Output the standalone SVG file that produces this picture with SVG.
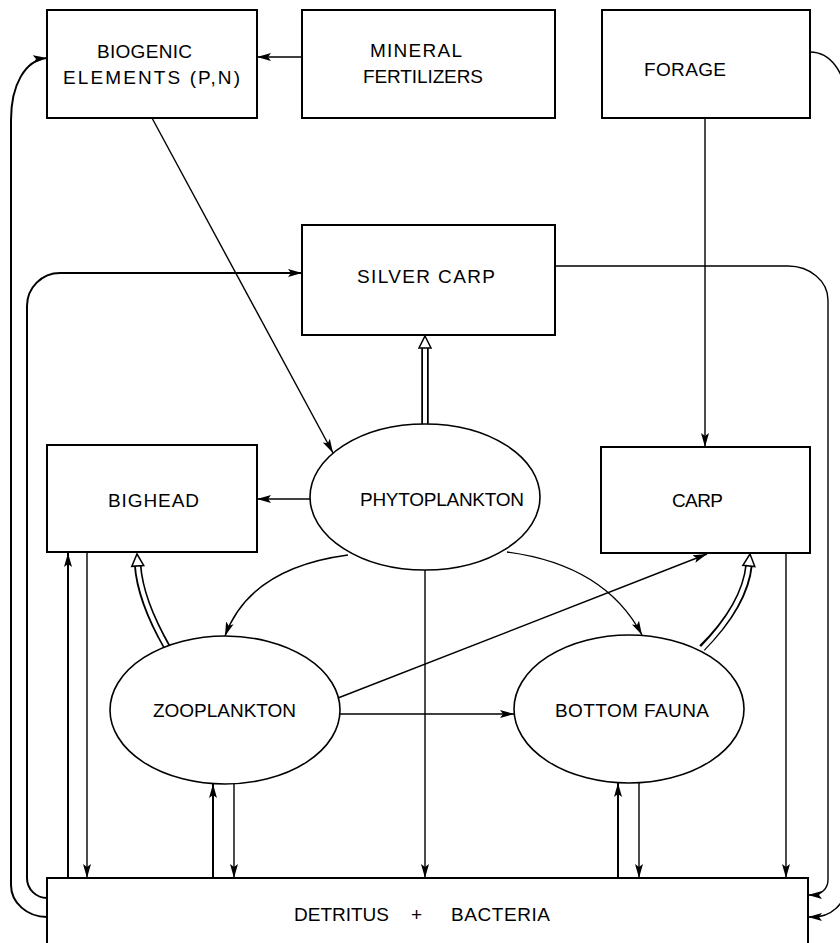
<svg xmlns="http://www.w3.org/2000/svg" width="840" height="943" viewBox="0 0 840 943">
<style>
.box{fill:#fff;stroke:#000;stroke-width:2}
.ell{fill:#fff;stroke:#000;stroke-width:1.6}
.t{font-family:"Liberation Sans",Arial,sans-serif;font-size:19px;fill:#000}
.c{fill:none;stroke:#000;stroke-width:1.4}
.c2{fill:none;stroke:#000;stroke-width:2}
.dbo{fill:none;stroke:#000;stroke-width:7.5}
.dbi{fill:none;stroke:#fff;stroke-width:4}
.oh{fill:#fff;stroke:#000;stroke-width:1.5;stroke-linejoin:miter}
</style>
<defs>
<marker id="ah" markerWidth="16" markerHeight="9" refX="14" refY="4.5" orient="auto" markerUnits="userSpaceOnUse">
<path d="M0,0.5 L14,4.5 L0,8.5 L3,4.5 z" fill="#000"/>
</marker>
<path id="open" class="oh" d="M0,0 L6,12 L-6,12 z"/>
</defs>
<rect width="840" height="943" fill="#fff"/>
<g id="connectors">
<path class="c" d="M302,57 H257" marker-end="url(#ah)"/>
<path class="c" d="M152,118 L333,453" marker-end="url(#ah)"/>
<path class="c" d="M705,118 V447" marker-end="url(#ah)"/>
<path class="c2" d="M47,917 A36,32 0 0 1 11,885 V120 C11,85 25,60 47,58" marker-end="url(#ah)"/>
<path class="c2" d="M47,898 A20,20 0 0 1 27,878 V306 A33,33 0 0 1 60,273 H302" marker-end="url(#ah)"/>
<path class="c" d="M555,266 H788 A40,34 0 0 1 828,300 V880 A15,15 0 0 1 813,895 L808,895" marker-end="url(#ah)"/>
<path class="c" d="M810,52 C830,52 846,72 846,102 V885 C846,905 830,917 813,917 L808,917" marker-end="url(#ah)"/>
<path class="c" d="M310,499 H257" marker-end="url(#ah)"/>
<path class="c" d="M348,555 Q250,568 225,636" marker-end="url(#ah)"/>
<path class="c" d="M507,552 Q605,565 642,635" marker-end="url(#ah)"/>
<path class="c" d="M425,570 V878" marker-end="url(#ah)"/>
<path class="c" d="M340,714 H514" marker-end="url(#ah)"/>
<path class="c" d="M338,698 L707,554" marker-end="url(#ah)"/>
<path class="c2" d="M68,878 V553" marker-end="url(#ah)"/>
<path class="c" d="M87,553 V878" marker-end="url(#ah)"/>
<path class="c2" d="M213,878 V784" marker-end="url(#ah)"/>
<path class="c" d="M234,784 V878" marker-end="url(#ah)"/>
<path class="c2" d="M618,878 V783" marker-end="url(#ah)"/>
<path class="c" d="M639,783 V878" marker-end="url(#ah)"/>
<path class="c" d="M786,553 V878" marker-end="url(#ah)"/>
<path class="dbo" d="M425,425 V346"/>
<path class="dbi" d="M425,427 V345"/>
<use href="#open" transform="translate(425,336)"/>
<path class="dbo" d="M167,647 Q140,600 137.7,565"/>
<path class="dbi" d="M168,649 Q140,600 137.7,564"/>
<use href="#open" transform="translate(137,554) rotate(-3.7)"/>
<path class="dbo" d="M702,648 Q745,605 749,565"/>
<path class="dbi" d="M701,650 Q745,605 749,564"/>
<use href="#open" transform="translate(750,554) rotate(5.6)"/>
</g>
<g id="biogenic">
<rect class="box" x="47" y="10" width="210" height="108"/>
<text class="t" x="97" y="58" textLength="95" lengthAdjust="spacing">BIOGENIC</text>
<text class="t" x="63" y="84" textLength="177" lengthAdjust="spacing">ELEMENTS (P,N)</text>
</g>
<g id="mineral">
<rect class="box" x="302" y="10" width="253" height="108"/>
<text class="t" x="370" y="57" textLength="92" lengthAdjust="spacing">MINERAL</text>
<text class="t" x="363" y="83" textLength="120" lengthAdjust="spacing">FERTILIZERS</text>
</g>
<g id="forage">
<rect class="box" x="602" y="10" width="208" height="108"/>
<text class="t" x="644" y="76" textLength="82" lengthAdjust="spacing">FORAGE</text>
</g>
<g id="silvercarp">
<rect class="box" x="302" y="225" width="253" height="110"/>
<text class="t" x="357" y="283" textLength="138" lengthAdjust="spacing">SILVER CARP</text>
</g>
<g id="bighead">
<rect class="box" x="47" y="445" width="210" height="107"/>
<text class="t" x="108" y="507" textLength="91" lengthAdjust="spacing">BIGHEAD</text>
</g>
<g id="carp">
<rect class="box" x="601" y="447" width="209" height="106"/>
<text class="t" x="672" y="507" textLength="51" lengthAdjust="spacing">CARP</text>
</g>
<g id="phytoplankton">
<ellipse class="ell" cx="425" cy="497" rx="115" ry="73"/>
<text class="t" x="360" y="506" textLength="164" lengthAdjust="spacing">PHYTOPLANKTON</text>
</g>
<g id="zooplankton">
<ellipse class="ell" cx="225" cy="710" rx="115" ry="74"/>
<text class="t" x="153" y="717" textLength="143" lengthAdjust="spacing">ZOOPLANKTON</text>
</g>
<g id="bottomfauna">
<ellipse class="ell" cx="629" cy="709" rx="115" ry="74"/>
<text class="t" x="555" y="717" textLength="154" lengthAdjust="spacing">BOTTOM FAUNA</text>
</g>
<g id="detritus">
<rect class="box" x="47" y="878" width="761" height="100"/>
<text class="t" y="921"><tspan x="294" textLength="95" lengthAdjust="spacing">DETRITUS</tspan> <tspan x="411">+</tspan> <tspan x="451" textLength="99" lengthAdjust="spacing">BACTERIA</tspan></text>
</g>
</svg>
